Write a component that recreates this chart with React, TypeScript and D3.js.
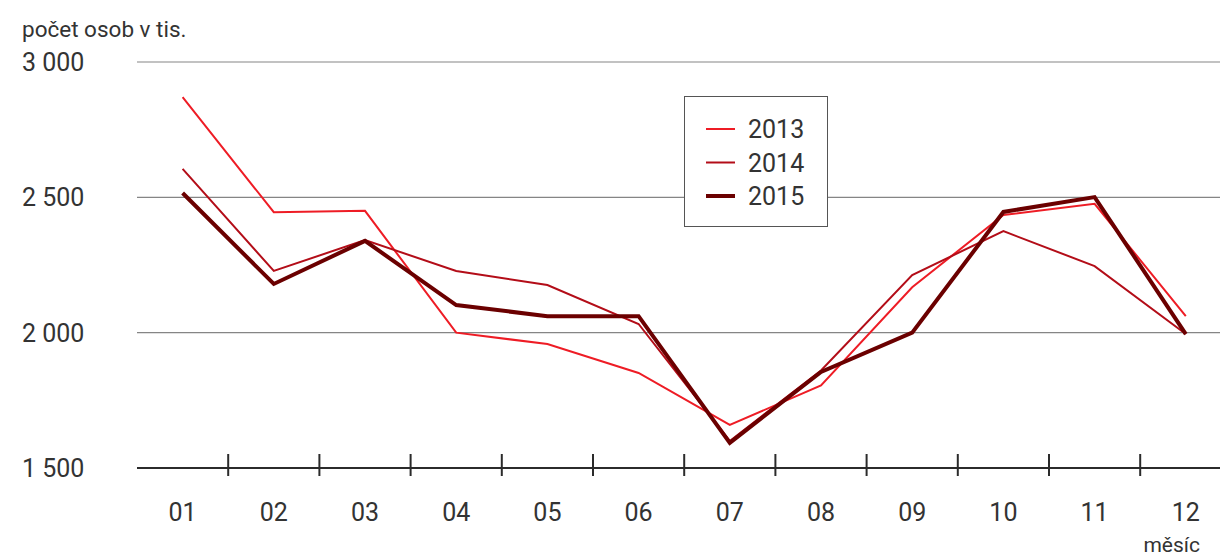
import React from 'react';
import * as d3 from 'd3';

// měsíce a hodnoty (tis. osob)
const months = ['01', '02', '03', '04', '05', '06', '07', '08', '09', '10', '11', '12'];
const v2013 = [2870, 2445, 2450, 2000, 1958, 1851, 1659, 1805, 2168, 2435, 2476, 2061];
const v2014 = [2605, 2228, 2342, 2228, 2176, 2032, 1600, 1860, 2213, 2375, 2246, 1995];
const v2015 = [2516, 2180, 2339, 2102, 2061, 2061, 1593, 1855, 2000, 2446, 2501, 1995];
const yTicks = [1500, 2000, 2500, 3000];

const series = [
  { name: '2013', values: v2013, color: '#ee1c25', width: 2 },
  { name: '2014', values: v2014, color: '#b30d18', width: 2 },
  { name: '2015', values: v2015, color: '#6b0000', width: 4 },
];

const W = 1220;
const H = 558;
const FONT = 'Roboto, sans-serif';

const fmt = (v: number) => d3.format(',')(v).replace(',', ' ');

const App = () => {
  const left = 137;
  const step = 91.2;
  const x = d3.scaleBand<string>()
    .domain(months)
    .range([left, left + step * months.length])
    .padding(0);
  const y = d3.scaleLinear().domain([1500, 3000]).range([468, 62]);

  const line = d3.line<number>()
    .x((d, i) => (x(months[i]) as number) + x.bandwidth() / 2)
    .y((d) => y(d));

  return (
    <div style={{ position: 'absolute', left: 0, top: 0 }}>
      <svg width={W} height={H} style={{ display: 'block', fontFamily: FONT }}>
        <rect width={W} height={H} fill="#fff" />

        {/* mřížka */}
        {yTicks.filter((t) => t > 1500).map((t) => (
          <line key={t} x1={left} x2={W} y1={y(t)} y2={y(t)} stroke="#858585" strokeWidth={1.2} />
        ))}

        {/* popisky osy y */}
        {yTicks.map((t) => (
          <text key={t} x={22} y={y(t)} dy="0.36em" fontSize={25} fill="#333">{fmt(t)}</text>
        ))}
        <text x={22} y={37} fontSize={22.5} fill="#333">počet osob v tis.</text>

        {/* linie */}
        {series.map((s) => (
          <path key={s.name} d={line(s.values) || ''} fill="none" stroke={s.color}
            strokeWidth={s.width} strokeLinejoin="miter" />
        ))}

        {/* osa x */}
        <line x1={left} x2={W} y1={y(1500)} y2={y(1500)} stroke="#2b2b2b" strokeWidth={2} />
        {months.slice(1).map((m) => (
          <line key={m} x1={x(m)} x2={x(m)} y1={y(1500) - 14} y2={y(1500) + 8} stroke="#2b2b2b" strokeWidth={2} />
        ))}
        {months.map((m) => (
          <text key={m} x={(x(m) as number) + x.bandwidth() / 2} y={521} textAnchor="middle" fontSize={25} fill="#333">{m}</text>
        ))}
        <text x={1200} y={552} textAnchor="end" fontSize={21} fill="#333">měsíc</text>

        {/* legenda */}
        <rect x={684.5} y={96.5} width={143} height={130} fill="#fff" stroke="#555" strokeWidth={1} />
        {series.map((s, i) => (
          <g key={s.name} transform={`translate(706,${129 + i * 33.5})`}>
            <line x1={0} x2={29} y1={0} y2={0} stroke={s.color} strokeWidth={s.width} />
            <text x={42} y={0} dy="0.36em" fontSize={25} fill="#333">{s.name}</text>
          </g>
        ))}
      </svg>
    </div>
  );
};

export default App;
